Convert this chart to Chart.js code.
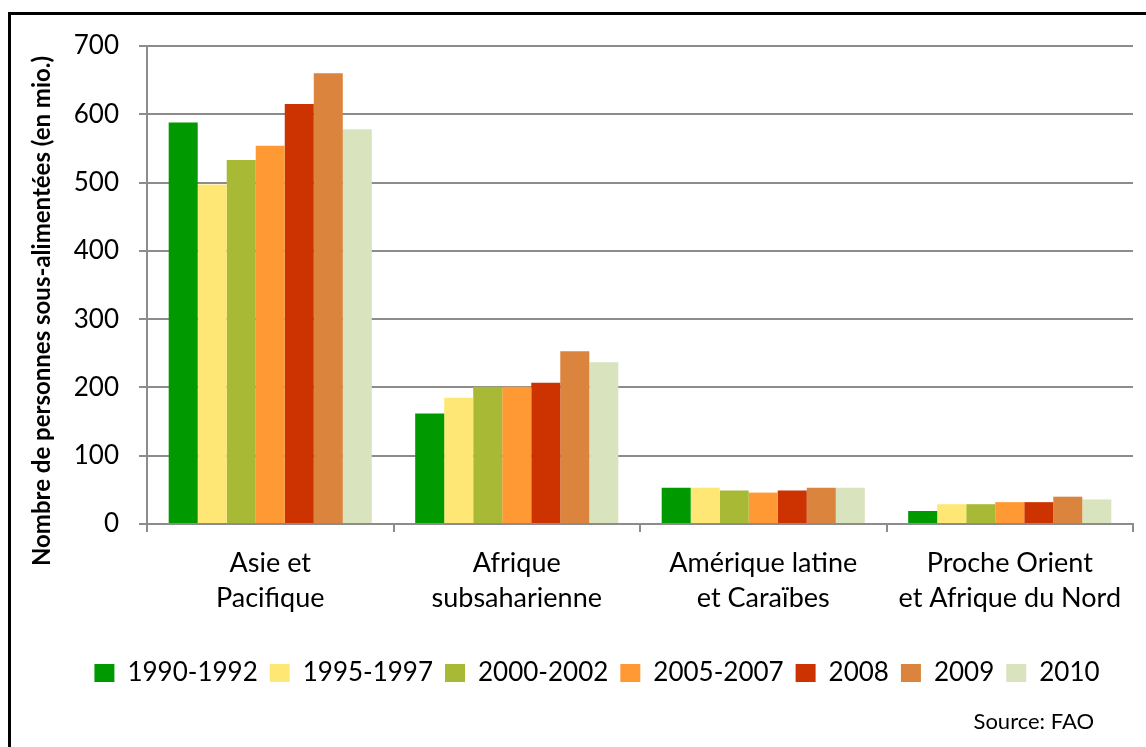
<!DOCTYPE html>
<html>
<head>
<meta charset="utf-8">
<script src="https://cdn.jsdelivr.net/npm/chart.js@4.4.1/dist/chart.umd.min.js"></script>
<style>
  html, body { margin: 0; padding: 0; background: #fff; }
  #wrap { position: relative; width: 1146px; height: 747px; overflow: hidden; }
  #frame { position: absolute; left: 8px; top: 12px; width: 1200px; height: 800px; border: 3px solid #000; }
  canvas { position: absolute; left: 0; top: 0; }
</style>
</head>
<body>
<div id="wrap">
  <div id="frame"></div>
  <canvas id="chart" width="1146" height="747"></canvas>
</div>
<script>
const regions = [
    ['Asie et', 'Pacifique'],
    ['Afrique', 'subsaharienne'],
    ['Amérique latine', 'et Caraïbes'],
    ['Proche Orient', 'et Afrique du Nord']
];

const periods = ['1990-1992', '1995-1997', '2000-2002', '2005-2007', '2008', '2009', '2010'];
const colors = ['#009900', '#FFE775', '#A8B935', '#FF9933', '#CC3300', '#DB843D', '#D9E4BF'];

// values in millions, one array per period
const v1990 = [588, 162, 53, 19];
const v1995 = [497, 185, 53, 29];
const v2000 = [533, 201, 49, 29];
const v2005 = [554, 201, 46, 32];
const v2008 = [615, 207, 49, 32];
const v2009 = [660, 253, 53, 40];
const v2010 = [578, 237, 53, 36];

const yTicks = [0, 100, 200, 300, 400, 500, 600, 700];

const yTitle = 'Nombre de personnes sous-alimentées (en mio.)';
const sourceText = 'Source: FAO';

const series = [v1990, v1995, v2000, v2005, v2008, v2009, v2010];
const gridGray = '#8c8c8c';
const FONT = 'Lato';

// y title and source line, drawn on the canvas
const extraText = {
    id: 'extraText',
    afterDraw(chart) {
        const ctx = chart.ctx;
        ctx.save();
        ctx.fillStyle = '#000';
        ctx.font = 'bold 24px ' + FONT;
        ctx.textAlign = 'center';
        ctx.textBaseline = 'middle';
        ctx.translate(42, 311);
        ctx.rotate(-Math.PI / 2);
        ctx.fillText(yTitle, 0, 0);
        ctx.restore();

        ctx.save();
        ctx.fillStyle = '#000';
        ctx.font = '22px ' + FONT;
        ctx.textAlign = 'right';
        ctx.textBaseline = 'middle';
        ctx.fillText(sourceText, 1094, 722);
        ctx.restore();
    }
};

new Chart(document.getElementById('chart'), {
    type: 'bar',
    data: {
        labels: regions,
        datasets: series.map((vals, i) => ({
            label: periods[i],
            data: vals,
            backgroundColor: colors[i],
            borderWidth: 0,
            categoryPercentage: 0.824,
            barPercentage: 1.0
        }))
    },
    options: {
        responsive: false,
        animation: false,
        layout: {
            // left padding is wide so the legend row centres like the original
            padding: { left: 61, right: 13, top: 46, bottom: 51 }
        },
        plugins: {
            tooltip: { enabled: false },
            legend: {
                position: 'bottom',
                labels: {
                    font: { family: FONT, size: 26 },
                    color: '#000',
                    boxWidth: 20,
                    boxHeight: 18,
                    padding: 12,
                    useBorderRadius: false
                }
            }
        },
        scales: {
            x: {
                afterFit: axis => { axis.height = 124; },
                grid: {
                    drawOnChartArea: false,
                    drawTicks: true,
                    tickLength: 8,
                    color: gridGray,
                    lineWidth: 2,
                    offset: true
                },
                border: { display: true, color: gridGray, width: 2 },
                ticks: {
                    font: { family: FONT, size: 27, lineHeight: 1.3 },
                    color: '#000',
                    padding: 14,
                    maxRotation: 0
                }
            },
            y: {
                min: 0,
                max: 700,
                afterFit: axis => { axis.width = 86; },
                afterBuildTicks: axis => { axis.ticks = yTicks.map(v => ({ value: v })); },
                grid: {
                    color: gridGray,
                    lineWidth: 2,
                    drawTicks: true,
                    tickLength: 8
                },
                border: { display: true, color: gridGray, width: 2 },
                ticks: {
                    font: { family: FONT, size: 26 },
                    color: '#000',
                    padding: 20
                }
            }
        }
    },
    plugins: [extraText]
});
</script>
</body>
</html>
